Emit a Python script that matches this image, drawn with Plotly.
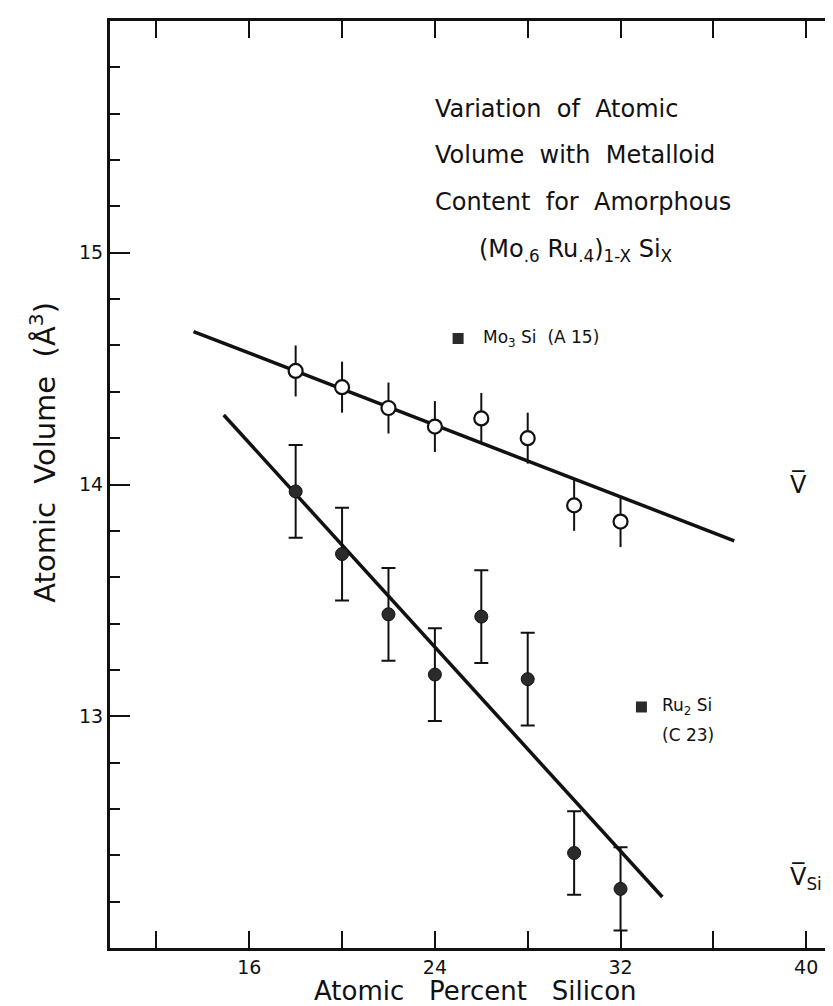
import plotly.graph_objects as go

# ---- data ----
si_pct = [18, 20, 22, 24, 26, 28, 30, 32]
v_mean = [14.49, 14.42, 14.33, 14.25, 14.285, 14.20, 13.91, 13.84]
v_mean_err = [0.11, 0.11, 0.11, 0.11, 0.11, 0.11, 0.11, 0.11]
v_si = [13.97, 13.70, 13.44, 13.18, 13.43, 13.16, 12.41, 12.255]
v_si_err = [0.20, 0.20, 0.20, 0.20, 0.20, 0.20, 0.18, 0.18]

fit_v_x = [13.6, 36.9]
fit_v_y = [14.66, 13.757]
fit_vsi_x = [14.9, 33.8]
fit_vsi_y = [14.30, 12.22]

crystal_x = [25.0, 32.9]
crystal_y = [14.63, 13.04]

x_ticks = [12, 16, 20, 24, 28, 32, 36, 40]
x_tick_text = ["", "16", "", "24", "", "32", "", "40"]
y_ticks = [13, 14, 15]
y_tick_text = ["13", "14", "15"]

FONT = "DejaVu Sans"
BLACK = "#111111"

fig = go.Figure()

# fitted lines
fig.add_trace(go.Scatter(x=fit_v_x, y=fit_v_y, mode="lines",
                         line=dict(color=BLACK, width=3.5), showlegend=False, hoverinfo="skip"))
fig.add_trace(go.Scatter(x=fit_vsi_x, y=fit_vsi_y, mode="lines",
                         line=dict(color=BLACK, width=3.5), showlegend=False, hoverinfo="skip"))

# V-bar (open circles)
fig.add_trace(go.Scatter(
    x=si_pct, y=v_mean, mode="markers",
    marker=dict(symbol="circle", size=14, color="white", line=dict(color=BLACK, width=2.2)),
    error_y=dict(type="data", array=v_mean_err, color=BLACK, thickness=2, width=0),
    showlegend=False))

# V-bar Si (filled circles)
fig.add_trace(go.Scatter(
    x=si_pct, y=v_si, mode="markers",
    marker=dict(symbol="circle", size=13, color="#2b2b2b", line=dict(color=BLACK, width=1)),
    error_y=dict(type="data", array=v_si_err, color=BLACK, thickness=2, width=7),
    showlegend=False))

# crystalline compounds
fig.add_trace(go.Scatter(
    x=crystal_x, y=crystal_y, mode="markers",
    marker=dict(symbol="square", size=11, color="#2b2b2b"),
    showlegend=False))

# right-hand ticks (axis line itself lies outside the picture)
fig.add_trace(go.Scatter(x=[None], y=[None], yaxis="y2", showlegend=False))

annotations = []
def txt(x, y, text, size, xanchor="left", xref="x", yref="y", textangle=0):
    annotations.append(dict(x=x, y=y, xref=xref, yref=yref, text=text, showarrow=False,
                            xanchor=xanchor, yanchor="middle", textangle=textangle,
                            font=dict(family=FONT, size=size, color=BLACK)))

title_lines = ["Variation  of  Atomic", "Volume  with  Metalloid", "Content  for  Amorphous"]
title_y = [15.62, 15.42, 15.22]
for t, yy in zip(title_lines, title_y):
    txt(23.9, yy, t, 24)
txt(25.8, 15.01, "(Mo<sub>.6</sub> Ru<sub>.4</sub>)<sub>1-X</sub> Si<sub>X</sub>", 24)

txt(26.0, 14.63, "Mo<sub>3</sub> Si  (A 15)", 17)
txt(33.7, 13.04, "Ru<sub>2</sub> Si", 17)
txt(33.7, 12.92, "(C 23)", 17)
txt(39.2, 14.0, "V\u0305", 24)
txt(39.2, 12.3, "V\u0305<sub>Si</sub>", 24)

# axis titles
txt(0.5, -0.046, "Atomic   Percent   Silicon", 26, xanchor="center", xref="paper", yref="paper")
txt(-0.092, 0.535, "Atomic  Volume  (Å<sup>3</sup>)", 29, xanchor="center", xref="paper", yref="paper",
    textangle=-90)

fig.update_layout(
    width=833, height=1006,
    margin=dict(l=102, r=0, t=13, b=66),
    paper_bgcolor="white", plot_bgcolor="white",
    annotations=annotations,
    xaxis=dict(range=[10, 41.5], tickmode="array", tickvals=x_ticks, ticktext=x_tick_text,
               ticks="inside", ticklen=17, tickwidth=2, tickcolor=BLACK,
               showline=True, linewidth=3, linecolor=BLACK, mirror="ticks",
               showgrid=False, zeroline=False,
               tickfont=dict(family=FONT, size=19, color=BLACK)),
    yaxis=dict(range=[12, 16], tickmode="array", tickvals=y_ticks, ticktext=y_tick_text,
               ticks="inside", ticklen=20, tickwidth=2, tickcolor=BLACK,
               showline=True, linewidth=3, linecolor=BLACK, mirror=False,
               showgrid=False, zeroline=False,
               minor=dict(tickmode="linear", tick0=12, dtick=0.2, ticks="inside",
                          ticklen=10, tickwidth=2, tickcolor=BLACK, showgrid=False),
               tickfont=dict(family=FONT, size=19, color=BLACK)),
    yaxis2=dict(range=[12, 16], overlaying="y", side="right", anchor="x",
                tickmode="array", tickvals=y_ticks, ticks="inside", ticklen=13,
                tickwidth=2, tickcolor=BLACK, showticklabels=False, showline=False,
                showgrid=False, zeroline=False,
                minor=dict(tickmode="linear", tick0=12, dtick=0.2, ticks="inside",
                           ticklen=4, tickwidth=2, tickcolor=BLACK, showgrid=False)),
)

fig.write_html("out.html")
